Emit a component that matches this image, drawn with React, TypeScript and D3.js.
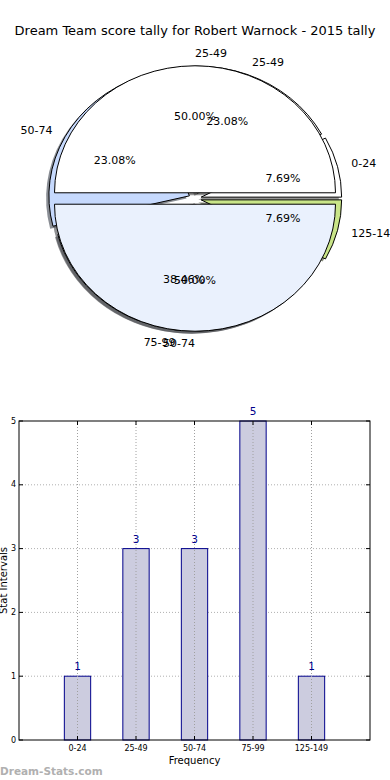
import React from "react";
import * as d3 from "d3";

// score intervals and how many games fell in each
const intervals = ["0-24", "25-49", "50-74", "75-99", "125-149"];
const counts = [1, 3, 3, 5, 1];
const pieColors = ["#ffffff", "#ffffff", "#c6d9fd", "#eaf1fd", "#c9e588"];

// second pie that got drawn over the first one
const overlayLabels = ["25-49", "50-74"];
const overlayCounts = [1, 1];
const overlayColors = ["#ffffff", "#eaf1fd"];

const yTicks = [0, 1, 2, 3, 4, 5];

const W = 390;
const H = 780;
const font = "DejaVu Sans, sans-serif";

// pie geometry (matplotlib style, non-equal aspect)
const cx = 195;
const cy = 198.5;
const rx = 140.5;
const ry = 127;
const explode = 0.045;
const labelDist = 1.1;
const pctDist = 0.6;

function shade(c: string) {
  const col = d3.rgb(c);
  return d3.rgb(col.r * 0.3, col.g * 0.3, col.b * 0.3).toString();
}

function buildSlices(labels: string[], values: number[], colors: string[]) {
  const total = d3.sum(values);
  const pie = d3
    .pie<number>()
    .sort(null)
    .value((d) => d)
    .startAngle(Math.PI / 2)
    .endAngle(Math.PI / 2 - 2 * Math.PI);
  return pie(values).map((p, i) => {
    const mid = (p.startAngle + p.endAngle) / 2;
    const theta = Math.PI / 2 - mid; // matplotlib angle
    const c = Math.cos(theta);
    const s = Math.sin(theta);
    const ox = cx + explode * rx * c;
    const oy = cy - explode * ry * s;
    return {
      p,
      label: labels[i],
      color: colors[i],
      ox,
      oy,
      lx: ox + labelDist * rx * c,
      ly: oy - labelDist * ry * s,
      anchor: c > 0 ? "start" : "end",
      px: ox + pctDist * rx * c,
      py: oy - pctDist * ry * s,
      pct: ((values[i] / total) * 100).toFixed(2) + "%",
    };
  });
}

const arc = d3.arc<d3.PieArcDatum<number>>().innerRadius(0).outerRadius(1);

function PieChart() {
  const base = buildSlices(intervals, counts, pieColors);
  const over = buildSlices(overlayLabels, overlayCounts, overlayColors);
  const all = [...base, ...over];
  return (
    <g>
      {/* shadows sit under every wedge */}
      {all.map((s, i) => (
        <path
          key={"sh" + i}
          d={arc(s.p) || ""}
          transform={`translate(${s.ox - 0.02 * rx},${s.oy + 0.02 * ry}) scale(${rx},${ry})`}
          fill={shade(s.color)}
          fillOpacity={0.6}
        />
      ))}
      {all.map((s, i) => (
        <path
          key={"w" + i}
          d={arc(s.p) || ""}
          transform={`translate(${s.ox},${s.oy}) scale(${rx},${ry})`}
          fill={s.color}
          stroke="#000"
          strokeWidth={1}
          vectorEffect="non-scaling-stroke"
        />
      ))}
      {all.map((s, i) => (
        <text
          key={"l" + i}
          x={s.lx}
          y={s.ly}
          textAnchor={s.anchor}
          dominantBaseline="central"
          fontSize={11}
          fontFamily={font}
        >
          {s.label}
        </text>
      ))}
      {all.map((s, i) => (
        <text
          key={"p" + i}
          x={s.px}
          y={s.py}
          textAnchor="middle"
          dominantBaseline="central"
          fontSize={11}
          fontFamily={font}
        >
          {s.pct}
        </text>
      ))}
    </g>
  );
}

function BarChart() {
  const left = 19;
  const right = 370;
  const top = 421;
  const bottom = 740;
  const x = d3.scalePoint<string>().domain(intervals).range([left, right]).padding(1);
  const y = d3.scaleLinear().domain([0, 5]).range([bottom, top]);
  const bw = x.step() * 0.45;
  const navy = "#00008b";
  return (
    <g fontFamily={font}>
      {yTicks.slice(1, -1).map((t) => (
        <line key={"gy" + t} x1={left} x2={right} y1={y(t)} y2={y(t)} stroke="#b0b0b0" strokeDasharray="1,2" />
      ))}
      {intervals.map((c, i) => (
        <rect
          key={"b" + i}
          x={(x(c) as number) - bw / 2}
          y={y(counts[i])}
          width={bw}
          height={bottom - y(counts[i])}
          fill="#ccccdf"
          stroke={navy}
          strokeWidth={1}
        />
      ))}
      {intervals.map((c) => (
        <line key={"gx" + c} x1={x(c)} x2={x(c)} y1={top} y2={bottom} stroke="#a0a0a0" strokeDasharray="1,2" />
      ))}
      {intervals.map((c, i) => (
        <text key={"v" + i} x={x(c)} y={y(counts[i]) - 6} textAnchor="middle" fontSize={10.5} fill={navy}>
          {counts[i]}
        </text>
      ))}
      <rect x={left} y={top} width={right - left} height={bottom - top} fill="none" stroke="#000" strokeWidth={1} />
      {yTicks.map((t) => (
        <g key={"ty" + t}>
          <line x1={left} x2={left + 4} y1={y(t)} y2={y(t)} stroke="#000" />
          <line x1={right - 4} x2={right} y1={y(t)} y2={y(t)} stroke="#000" />
          <text x={left - 3} y={y(t)} textAnchor="end" dominantBaseline="central" fontSize={8}>
            {t}
          </text>
        </g>
      ))}
      {intervals.map((c) => (
        <g key={"tx" + c}>
          <line x1={x(c)} x2={x(c)} y1={bottom} y2={bottom - 4} stroke="#000" />
          <line x1={x(c)} x2={x(c)} y1={top} y2={top + 4} stroke="#000" />
          <text x={x(c)} y={bottom + 11} textAnchor="middle" fontSize={8}>
            {c}
          </text>
        </g>
      ))}
      <text x={(left + right) / 2} y={764} textAnchor="middle" fontSize={10}>
        Frequency
      </text>
      <text transform={`translate(7,${(top + bottom) / 2}) rotate(-90)`} textAnchor="middle" fontSize={10}>
        Stat Intervals
      </text>
    </g>
  );
}

export default function App() {
  return (
    <svg width={W} height={H} style={{ position: "absolute", left: 0, top: 0, background: "#fff" }}>
      <rect width={W} height={H} fill="#fff" />
      <text x={195} y={35} textAnchor="middle" fontSize={13} fontFamily={font}>
        Dream Team score tally for Robert Warnock - 2015 tally
      </text>
      <PieChart />
      <BarChart />
      <text x={0} y={775} fontSize={10.5} fontWeight="bold" fill="#b0b0b0" fontFamily={font}>
        Dream-Stats.com
      </text>
    </svg>
  );
}
